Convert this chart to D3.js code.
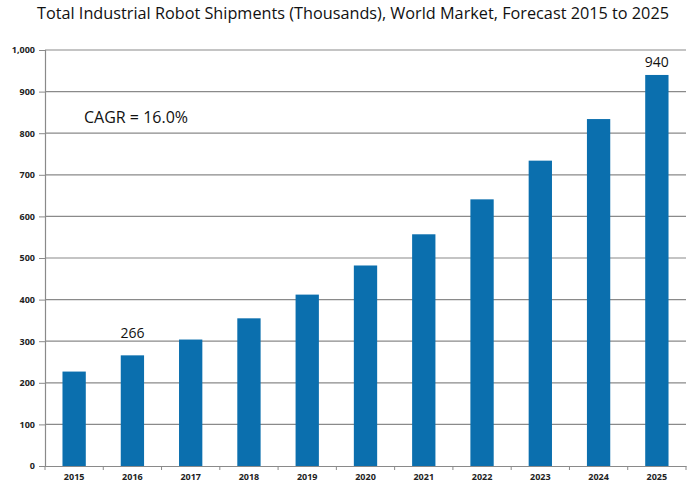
<!DOCTYPE html>
<html><head><meta charset="utf-8">
<script src="https://cdn.jsdelivr.net/npm/d3@7"></script>
<style>body{margin:0;background:#fff}svg{display:block}</style>
</head><body>
<script>
const categories = ["2015","2016","2017","2018","2019","2020","2021","2022","2023","2024","2025"];
const shipments = [227, 266, 304, 355, 412, 482, 557, 641, 734, 834, 940];
const yTicks = [0,100,200,300,400,500,600,700,800,900,1000];
const labeledYears = ["2016","2025"];
const titleText = "Total Industrial Robot Shipments (Thousands), World Market, Forecast 2015 to 2025";
const noteText = "CAGR = 16.0%";

const W = 700, H = 493;
const m = {left:45, right:14, top:50, bottom:27};
const svg = d3.select("body").append("svg").attr("width", W).attr("height", H);
const x = d3.scaleBand().domain(categories).range([m.left, W - m.right]).paddingInner(0.6).paddingOuter(0.3);
const y = d3.scaleLinear().domain([0, 1000]).range([H - m.bottom, m.top]);

// gridlines
svg.append("g").selectAll("line").data(yTicks.filter(d => d > 0)).join("line")
  .attr("x1", m.left).attr("x2", W - m.right)
  .attr("y1", d => y(d)).attr("y2", d => y(d))
  .attr("stroke", "#8a8a8a").attr("stroke-width", 1.2);

// bars
svg.append("g").selectAll("rect").data(categories).join("rect")
  .attr("x", d => x(d)).attr("width", x.bandwidth())
  .attr("y", (d, i) => y(shipments[i])).attr("height", (d, i) => y(0) - y(shipments[i]))
  .attr("fill", "#0b6fae");

// y axis
const yAxis = svg.append("g").attr("transform", `translate(${m.left},0)`)
  .call(d3.axisLeft(y).tickValues(yTicks).tickSize(6).tickPadding(4).tickFormat(d3.format(",")));
yAxis.select(".domain").attr("stroke", "#8a8a8a").attr("stroke-width", 1.2);
yAxis.selectAll(".tick line").attr("stroke", "#8a8a8a");
yAxis.selectAll("text").attr("font-family", "'Open Sans', sans-serif").attr("font-size", 9).attr("font-weight", "bold").attr("fill", "#222");

// x axis
const xAxis = svg.append("g").attr("transform", `translate(0,${y(0)})`)
  .call(d3.axisBottom(x).tickSize(0).tickPadding(8));
xAxis.select(".domain").attr("stroke", "#8a8a8a").attr("stroke-width", 1.2);
xAxis.selectAll("text").attr("font-family", "'Open Sans', sans-serif").attr("font-size", 9).attr("font-weight", "bold").attr("fill", "#222");
// boundary tick marks
const bounds = d3.range(categories.length + 1).map(i => m.left + (W - m.left - m.right) * i / categories.length);
svg.append("g").selectAll("line").data(bounds).join("line")
  .attr("x1", d => d).attr("x2", d => d)
  .attr("y1", y(0)).attr("y2", y(0) + 4)
  .attr("stroke", "#8a8a8a");

// value labels
const labelGap = {"2016": 17, "2025": 8};
svg.append("g").selectAll("text").data(labeledYears).join("text")
  .attr("x", d => x(d) + x.bandwidth() / 2)
  .attr("y", d => y(shipments[categories.indexOf(d)]) - labelGap[d])
  .attr("text-anchor", "middle")
  .attr("font-family", "'Open Sans', sans-serif").attr("font-size", 14).attr("fill", "#111")
  .text(d => shipments[categories.indexOf(d)]);

// title
svg.append("text").attr("x", 353).attr("y", 19).attr("text-anchor", "middle")
  .attr("font-family", "'Open Sans', sans-serif").attr("font-size", 17).attr("fill", "#111")
  .attr("textLength", 632).attr("lengthAdjust", "spacingAndGlyphs")
  .text(titleText);

// note
svg.append("text").attr("x", 84).attr("y", 123)
  .attr("font-family", "'Open Sans', sans-serif").attr("font-size", 16).attr("fill", "#111")
  .text(noteText);
</script>
</body></html>
